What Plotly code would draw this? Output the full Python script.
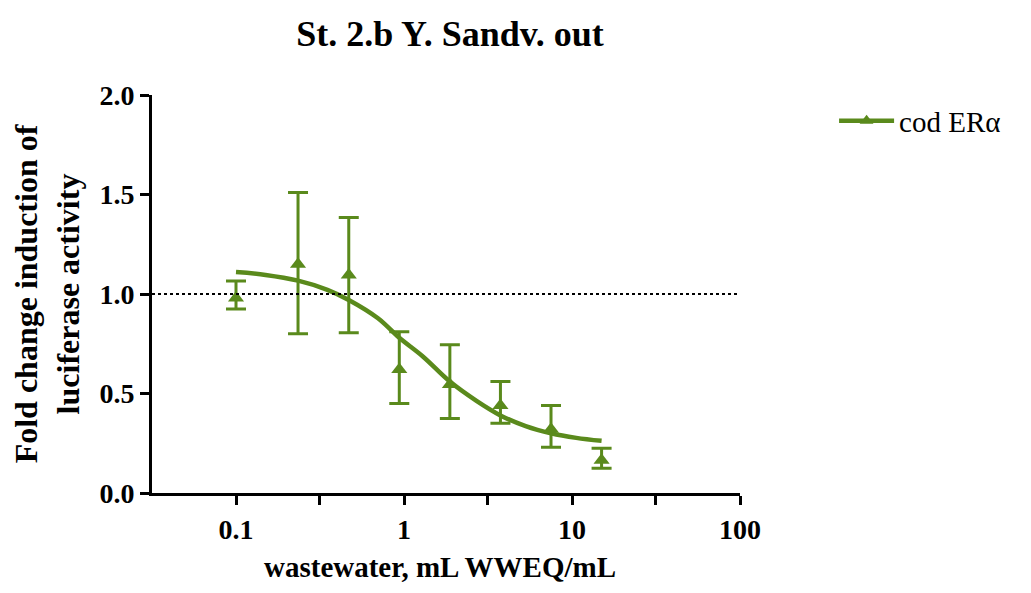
import plotly.graph_objects as go

# Data
conc = [0.1, 0.234, 0.469, 0.9375, 1.875, 3.75, 7.5, 15]
fold = [0.98, 1.15, 1.095, 0.62, 0.545, 0.44, 0.32, 0.165]
err_up = [0.085, 0.36, 0.29, 0.19, 0.20, 0.12, 0.12, 0.06]
err_dn = [0.055, 0.35, 0.29, 0.17, 0.17, 0.09, 0.09, 0.04]

# Fitted curve
curve_x = [0.1, 0.15, 0.234, 0.35, 0.469, 0.7, 0.9375, 1.3, 1.875, 2.7, 3.75, 5.3, 7.5, 10.6, 15]
curve_y = [1.11, 1.096, 1.067, 1.021, 0.97, 0.878, 0.78, 0.685, 0.56, 0.463, 0.39, 0.336, 0.30, 0.277, 0.262]

xtick_vals = [0.1, 0.316, 1, 3.16, 10, 31.6, 100]
xtick_text = ["0.1", "", "1", "", "10", "", "100"]
ytick_vals = [0.0, 0.5, 1.0, 1.5, 2.0]

title = "St. 2.b Y. Sandv. out"
series_name = "cod ERα"
xtitle = "wastewater, mL WWEQ/mL"
ytitle = "Fold change induction of<br>luciferase activity"
green = "#5a8a1c"
serif = "Liberation Serif, Times New Roman, serif"

W, H = 1015, 577  # page adds an 8px body margin
fig = go.Figure()

# reference line at 1.0
fig.add_shape(type="line", xref="paper", yref="y", x0=0, x1=1, y0=1, y1=1,
              line=dict(color="black", width=2.2, dash="dot"))

fig.add_trace(go.Scatter(x=curve_x, y=curve_y, mode="lines", line=dict(color=green, width=4.5, shape="spline"),
                         showlegend=False, hoverinfo="skip"))
fig.add_trace(go.Scatter(x=conc, y=fold, mode="markers",
                         marker=dict(symbol="triangle-up", size=14, color=green),
                         error_y=dict(type="data", array=err_up, arrayminus=err_dn, symmetric=False,
                                      color=green, thickness=3, width=10),
                         showlegend=False))
fig.add_trace(go.Scatter(x=[None], y=[None], mode="lines+markers", name=series_name,
                         line=dict(color=green, width=4.5),
                         marker=dict(symbol="triangle-up", size=12, color=green)))

fig.update_layout(
    width=W, height=H,
    paper_bgcolor="white", plot_bgcolor="white",
    margin=dict(l=144, r=283, t=87, b=92, autoexpand=False),
    font=dict(family=serif, color="black"),
    title=dict(text=title, x=442/W, xanchor="center", y=1 - 25/H, yanchor="middle",
               font=dict(size=36, family=serif, color="black", weight="bold")),
    legend=dict(x=1.16, y=0.935, xanchor="left", yanchor="middle", itemwidth=55,
                font=dict(size=29, family=serif, color="black"), bgcolor="rgba(0,0,0,0)"),
    showlegend=True,
)
fig.add_annotation(text=xtitle, xref="paper", yref="paper", x=0.49, y=-(559 - 485) / 398,
                   xanchor="center", yanchor="middle", showarrow=False,
                   font=dict(size=29, family=serif, color="black", weight="bold"))

fig.update_xaxes(type="log", range=[-1.5, 2], tickvals=xtick_vals, ticktext=xtick_text,
                 showline=True, linecolor="black", linewidth=3, ticks="outside", ticklen=9, tickwidth=3,
                 tickcolor="black", showgrid=False, zeroline=False,
                 tickfont=dict(size=28, family=serif, color="black", weight="bold"))
fig.update_yaxes(range=[0, 2], tickvals=ytick_vals, tickformat=".1f",
                 showline=True, linecolor="black", linewidth=3, ticks="outside", ticklen=9, tickwidth=3,
                 tickcolor="black", showgrid=False, zeroline=False,
                 tickfont=dict(size=28, family=serif, color="black", weight="bold"),
                 title=dict(text=ytitle, font=dict(size=32, family=serif, weight="bold"), standoff=18))

fig.write_html("out.html")
